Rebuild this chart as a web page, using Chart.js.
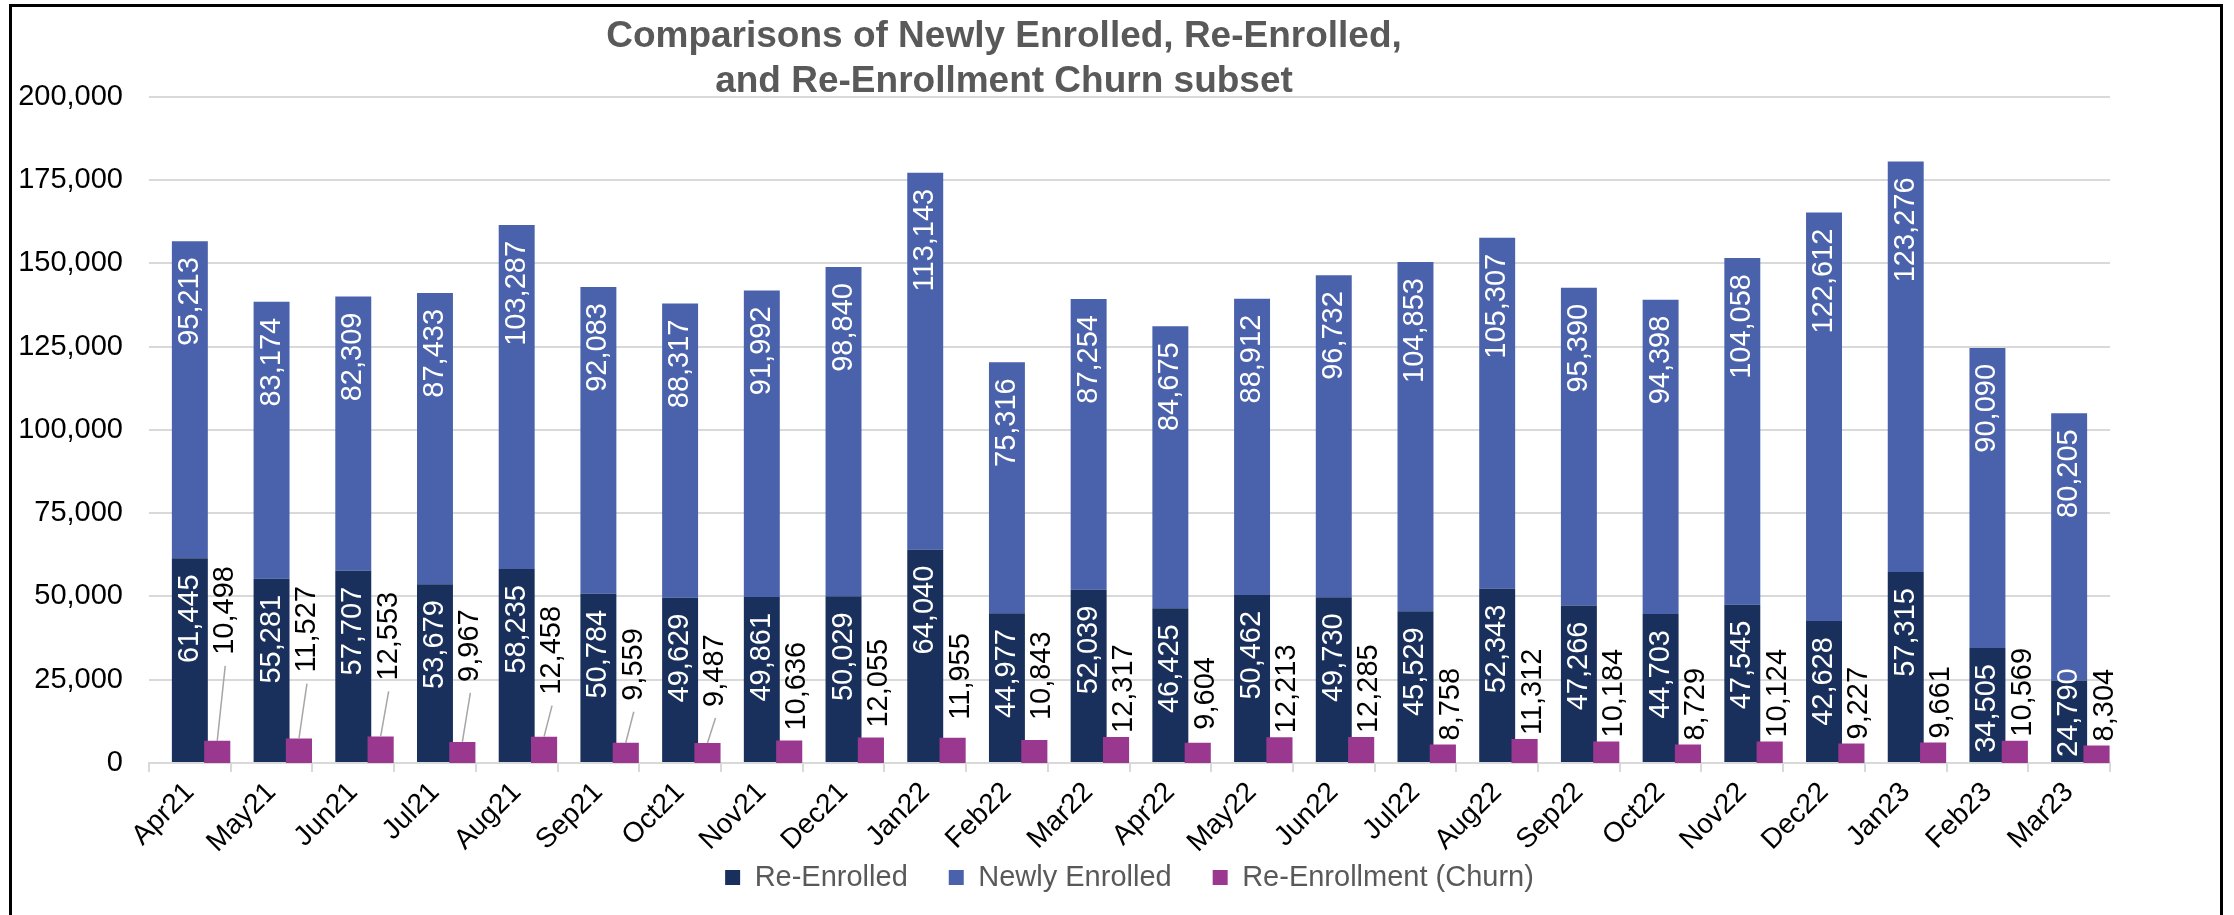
<!DOCTYPE html>
<html>
<head>
<meta charset="utf-8">
<script src="https://cdn.jsdelivr.net/npm/chart.js@4.4.1/dist/chart.umd.min.js"></script>
<style>
  html, body { margin: 0; padding: 0; background: #fff; overflow: hidden; }
  #wrap { position: relative; width: 2234px; height: 915px; }
  #frame { position: absolute; left: 9px; top: 4px; width: 2214px; height: 1000px;
           box-sizing: border-box; border: 3px solid #000; border-bottom: none; pointer-events: none; }
</style>
</head>
<body>
<div id="wrap">
  <canvas id="chart" width="2234" height="915"></canvas>
  <div id="frame"></div>
</div>
<script>
// monthly figures
const months = ['Apr21', 'May21', 'Jun21', 'Jul21', 'Aug21', 'Sep21', 'Oct21', 'Nov21', 'Dec21', 'Jan22', 'Feb22', 'Mar22',
  'Apr22', 'May22', 'Jun22', 'Jul22', 'Aug22', 'Sep22', 'Oct22', 'Nov22', 'Dec22', 'Jan23', 'Feb23', 'Mar23'];
const reEnrolled = [61445, 55281, 57707, 53679, 58235, 50784, 49629, 49861, 50029, 64040, 44977, 52039,
  46425, 50462, 49730, 45529, 52343, 47266, 44703, 47545, 42628, 57315, 34505, 24790];
const newlyEnrolled = [95213, 83174, 82309, 87433, 103287, 92083, 88317, 91992, 98840, 113143, 75316, 87254,
  84675, 88912, 96732, 104853, 105307, 95390, 94398, 104058, 122612, 123276, 90090, 80205];
const churn = [10498, 11527, 12553, 9967, 12458, 9559, 9487, 10636, 12055, 11955, 10843, 12317,
  9604, 12213, 12285, 8758, 11312, 10184, 8729, 10124, 9227, 9661, 10569, 8304];
const yTicks = [0, 25000, 50000, 75000, 100000, 125000, 150000, 175000, 200000];

// churn labels were dragged up by hand in the original (px)
const churnLabelLift = [82, 62, 52, 56, 38, 38, 32, 6, 6, 14, 16, 0, 9, 0, 0, 0, 0, 0, 0, 0, 0, 0, 0, 0];

const FONT = '"Liberation Sans", Arial, sans-serif';
const fmt = v => v.toLocaleString('en-US');

const layoutTweaks = {
  id: 'layoutTweaks',
  afterLayout(chart) {
    // churn bars sit to the right of the stacked bar, overlapping it a little
    const x = chart.scales.x, x2 = chart.scales.x2;
    const step = (x.right - x.left) / months.length;
    x2.left = x.left + step * 0.335;
    x2.right = x.right + step * 0.335;
    x2.configure();
    // let the slanted month labels run below the axis box without clipping
    x.bottom = chart.height;
    // title is a bit left of centre
    chart.titleBlock.left -= 51;
    chart.titleBlock.right -= 51;
  }
};

const barLabels = {
  id: 'barLabels',
  afterDatasetsDraw(chart) {
    const ctx = chart.ctx;
    ctx.save();
    ctx.font = '29px ' + FONT;
    ctx.textBaseline = 'middle';

    // white labels inside the stacked segments, near the top
    [0, 1].forEach(di => {
      const vals = chart.data.datasets[di].data;
      chart.getDatasetMeta(di).data.forEach((bar, i) => {
        const txt = fmt(vals[i]);
        const len = ctx.measureText(txt).width;
        let top = bar.y + 16;
        if (top + len > bar.base - 5) top = bar.base - 5 - len;
        ctx.save();
        ctx.translate(bar.x, top);
        ctx.rotate(-Math.PI / 2);
        ctx.textAlign = 'right';
        ctx.fillStyle = '#ffffff';
        ctx.fillText(txt, 0, 0);
        ctx.restore();
      });
    });

    // churn labels above the purple bars, with leader lines where moved
    chart.getDatasetMeta(2).data.forEach((bar, i) => {
      const txt = fmt(churn[i]);
      const lift = churnLabelLift[i];
      const bottom = bar.y - 4 - lift;
      const lx = bar.x + 8;
      if (lift > 20) {
        ctx.beginPath();
        ctx.moveTo(bar.x, bar.y);
        ctx.lineTo(lx, bottom + 11);
        ctx.strokeStyle = '#a6a6a6';
        ctx.lineWidth = 1.5;
        ctx.stroke();
      }
      ctx.save();
      ctx.translate(lx, bottom);
      ctx.rotate(-Math.PI / 2);
      ctx.textAlign = 'left';
      ctx.fillStyle = '#000000';
      ctx.fillText(txt, 0, 0);
      ctx.restore();
    });
    ctx.restore();
  }
};

new Chart(document.getElementById('chart'), {
  type: 'bar',
  data: {
    labels: months,
    datasets: [
      {
        label: 'Re-Enrolled',
        data: reEnrolled,
        backgroundColor: '#1a305c',
        xAxisID: 'x', yAxisID: 'y',
        grouped: false,
        categoryPercentage: 1, barPercentage: 0.44,
        order: 1
      },
      {
        label: 'Newly Enrolled',
        data: newlyEnrolled,
        backgroundColor: '#4a62ac',
        xAxisID: 'x', yAxisID: 'y',
        grouped: false,
        categoryPercentage: 1, barPercentage: 0.44,
        order: 1
      },
      {
        label: 'Re-Enrollment (Churn)',
        data: churn,
        backgroundColor: '#99388e',
        xAxisID: 'x2', yAxisID: 'y2',
        grouped: false,
        categoryPercentage: 1, barPercentage: 0.32,
        order: 0
      }
    ]
  },
  options: {
    responsive: false,
    animation: false,
    devicePixelRatio: 1,
    layout: { padding: { left: 0, right: 124, top: 0, bottom: 13 } },
    scales: {
      x: {
        stacked: true,
        grid: { drawOnChartArea: false, drawTicks: true, tickLength: 9, color: '#d9d9d9', lineWidth: 2 },
        border: { color: '#d9d9d9', width: 2 },
        ticks: { color: '#000', font: { family: FONT, size: 28 }, maxRotation: 45, minRotation: 45, autoSkip: false, padding: 4 },
        afterFit: s => { s.height = 59; }
      },
      y: {
        stacked: true,
        min: 0, max: 200000,
        afterBuildTicks: s => { s.ticks = yTicks.map(v => ({ value: v })); },
        grid: { color: '#d9d9d9', lineWidth: 2, drawTicks: false },
        border: { display: false },
        ticks: { color: '#000', font: { family: FONT, size: 29 }, padding: 26, callback: v => fmt(v) },
        afterFit: s => { s.width = 149; }
      },
      x2: { type: 'category', display: false, offset: true, grid: { display: false } },
      y2: { display: false, min: 0, max: 315000, grid: { display: false } }
    },
    plugins: {
      title: {
        display: true,
        text: ['Comparisons of Newly Enrolled, Re-Enrolled,', 'and Re-Enrollment Churn subset'],
        color: '#595959',
        font: { family: FONT, size: 37, weight: 'bold', lineHeight: 1.2 },
        padding: { top: 15, bottom: -7 }
      },
      legend: {
        position: 'bottom',
        fullSize: false,
        labels: { color: '#595959', font: { family: FONT, size: 29 }, boxWidth: 15, boxHeight: 15, padding: 41,
          sort: (a, b) => a.datasetIndex - b.datasetIndex }
      },
      tooltip: { enabled: false }
    }
  },
  plugins: [layoutTweaks, barLabels]
});
</script>
</body>
</html>
